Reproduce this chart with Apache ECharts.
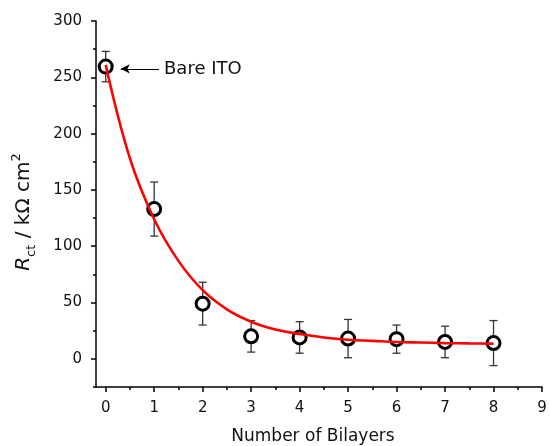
<!DOCTYPE html>
<html lang="en">
<head>
    <meta charset="UTF-8">
    <title>Rct vs bilayers</title>
    <script src="https://cdn.jsdelivr.net/npm/echarts@6/dist/echarts.min.js"></script>
    <style>
        html, body {margin: 0; padding: 0; background: #fff;}
        #chart {width: 550px; height: 446px;}
    </style>
</head>
<body>
<div id="chart"></div>
<script>
    /* measured points */
    var bilayers = [0, 1, 2, 3, 4, 5, 6, 7, 8];
    var rct = [259.5, 133, 49, 20, 19, 18, 17.5, 15, 14];
    var rctErr = [13.5, 24, 19, 14, 14, 17, 12.5, 14, 20];

    /* red fit curve, every half bilayer */
    var fitX = [0, 0.5, 1, 1.5, 2, 2.5, 3, 3.5, 4, 4.5, 5, 5.5, 6, 6.5, 7, 7.5, 8];
    var fitY = [261, 178, 124, 87, 61, 44, 33, 26, 22, 19, 17, 16, 15, 14.5, 14, 13.7, 13.5];

    /* tick labels */
    var xTicks = [0, 1, 2, 3, 4, 5, 6, 7, 8, 9];
    var yTicks = [0, 50, 100, 150, 200, 250, 300];
    var xMinor = [0.5, 1.5, 2.5, 3.5, 4.5, 5.5, 6.5, 7.5, 8.5];
    var yMinor = [-25, 25, 75, 125, 175, 225, 275];

    var font = 'DejaVu Sans';
    var pts = bilayers.map(function (x, i) { return [x, rct[i]]; });
    var bars = bilayers.map(function (x, i) { return [x, rct[i] - rctErr[i], rct[i] + rctErr[i]]; });
    var fit = fitX.map(function (x, i) { return [x, fitY[i]]; });

    var tickLine = {color: '#000', width: 1.5};
    var xMin = -0.2, xMax = 9, yMin = -25, yMax = 300;

    // short ticks only, laid over the main axis
    function minorAxis(min, max, vals, pos) {
        return {
            type: 'value', min: min, max: max, position: pos,
            axisLine: {show: false, onZero: false},
            axisTick: {show: true, inside: false, length: 3, lineStyle: tickLine, customValues: vals},
            axisLabel: {show: false},
            splitLine: {show: false}
        };
    }

    var chart = echarts.init(document.getElementById('chart'));
    var option = {
        backgroundColor: '#fff',
        animation: false,
        grid: {left: 96, right: 8, top: 21, bottom: 59, containLabel: false, outerBoundsMode: 'none'},
        xAxis: [{
            type: 'value', min: xMin, max: xMax, position: 'bottom',
            axisLine: {show: true, onZero: false, lineStyle: tickLine},
            axisTick: {show: true, inside: false, length: 5, lineStyle: tickLine, customValues: xTicks},
            axisLabel: {fontFamily: font, fontSize: 15, color: '#111', margin: 14, customValues: xTicks},
            splitLine: {show: false},
            name: 'Number of Bilayers', nameLocation: 'middle', nameGap: 41,
            nameTextStyle: {fontFamily: font, fontSize: 17, color: '#111', padding: [0, 12, 0, 0]}
        },
            minorAxis(xMin, xMax, xMinor, 'bottom')
        ],
        yAxis: [{
            type: 'value', min: yMin, max: yMax, position: 'left',
            axisLine: {show: true, onZero: false, lineStyle: tickLine},
            axisTick: {show: true, inside: false, length: 5, lineStyle: tickLine, customValues: yTicks},
            axisLabel: {fontFamily: font, fontSize: 15, color: '#111', margin: 14, customValues: yTicks},
            splitLine: {show: false},
            name: '{i|R}{sub|ct}{n| / kΩ cm}{sup|2}',
            nameLocation: 'middle', nameRotate: 90, nameGap: 58,
            nameTextStyle: {
                color: '#111',
                padding: [0, 16, 0, 0],
                rich: {
                    i: {fontFamily: font, fontSize: 20, fontStyle: 'italic', lineHeight: 28, verticalAlign: 'middle', color: '#111'},
                    n: {fontFamily: font, fontSize: 20, lineHeight: 28, verticalAlign: 'middle', color: '#111'},
                    sub: {fontFamily: font, fontSize: 13, lineHeight: 12, verticalAlign: 'bottom', color: '#111'},
                    sup: {fontFamily: font, fontSize: 13, lineHeight: 12, verticalAlign: 'top', color: '#111'}
                }
            }
        },
            minorAxis(yMin, yMax, yMinor, 'left')
        ],
        graphic: [{
            type: 'text', x: 164, y: 69,
            style: {text: 'Bare ITO', fontFamily: font, fontSize: 18, fill: '#111', verticalAlign: 'middle'}
        }],
        series: [
            {
                // error bars
                type: 'custom', z: 2,
                clip: false,
                data: bars,
                renderItem: function (params, api) {
                    var lo = api.coord([api.value(0), api.value(1)]);
                    var hi = api.coord([api.value(0), api.value(2)]);
                    var w = 4;
                    var st = {stroke: '#333', lineWidth: 1.3};
                    return {
                        type: 'group',
                        children: [
                            {type: 'line', shape: {x1: lo[0], y1: lo[1], x2: hi[0], y2: hi[1]}, style: st},
                            {type: 'line', shape: {x1: lo[0] - w, y1: lo[1], x2: lo[0] + w, y2: lo[1]}, style: st},
                            {type: 'line', shape: {x1: hi[0] - w, y1: hi[1], x2: hi[0] + w, y2: hi[1]}, style: st}
                        ]
                    };
                }
            },
            {
                type: 'scatter', z: 3,
                data: pts,
                symbol: 'circle', symbolSize: 13,
                itemStyle: {color: '#fff', borderColor: '#000', borderWidth: 3, opacity: 1},
                markLine: {
                    silent: true,
                    symbol: ['none', 'arrow'],
                    symbolSize: [7, 9],
                    lineStyle: {color: '#000', width: 1.2, type: 'solid'},
                    label: {show: false},
                    data: [[{coord: [1.1, 257.5]}, {coord: [0.31, 257.5]}]]
                }
            },
            {
                type: 'line', z: 4,
                data: fit,
                smooth: 0.4,
                showSymbol: false,
                lineStyle: {color: '#ff0000', width: 2.6}
            }
        ]
    };
    chart.setOption(option);
</script>
</body>
</html>
